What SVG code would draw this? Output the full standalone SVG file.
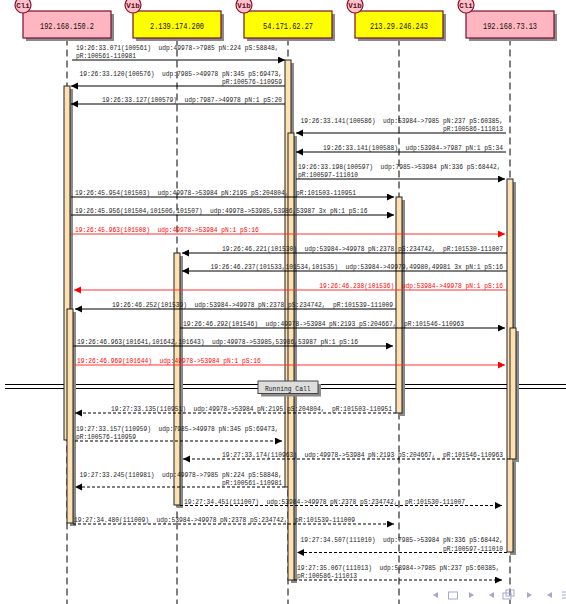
<svg xmlns="http://www.w3.org/2000/svg" width="566" height="604" viewBox="0 0 566 604">
<style>
.t{font-family:"Liberation Mono","DejaVu Sans Mono",monospace;font-size:8px;fill:#1a1a1a;white-space:pre}
.red{fill:#f00}
.pt{font-family:"Liberation Mono","DejaVu Sans Mono",monospace;font-size:8.5px;fill:#111;text-anchor:middle}
.ct{font-family:"Liberation Mono","DejaVu Sans Mono",monospace;font-size:7.5px;fill:#5a1020;text-anchor:middle;font-weight:bold}
.box{stroke:#7a1030;stroke-width:1.2}
.cli{fill:#ffb6c1}
.vib{fill:#ffff00}
.circ{fill:#ffc0cb;stroke:#8a1030;stroke-width:1.2}
.shadow{fill:#8a8a8a}
.life{stroke:#000;stroke-width:1;stroke-dasharray:7,4;fill:none}
.act{fill:#ffe0b0;stroke:#222;stroke-width:1}
.msg{stroke:#000;stroke-width:1;fill:none;marker-end:url(#ah)}
.msgr{stroke:#f33;stroke-width:1;fill:none;marker-end:url(#ahr)}
.rsp{stroke:#000;stroke-width:1;fill:none;stroke-dasharray:3,2;marker-end:url(#ah)}
.nav{fill:#a4a8d4;stroke:none}
.navs{fill:none;stroke:#a4a8d4;stroke-width:1}
</style>
<defs>
<marker id="ah" markerWidth="8" markerHeight="8" refX="7" refY="3.5" orient="auto" markerUnits="userSpaceOnUse"><path d="M0,0 L7,3.5 L0,7 z" fill="#000"/></marker>
<marker id="ahr" markerWidth="8" markerHeight="8" refX="7" refY="3.5" orient="auto" markerUnits="userSpaceOnUse"><path d="M0,0 L7,3.5 L0,7 z" fill="#f00"/></marker>
</defs>
<rect width="566" height="604" fill="#fff"/>

<g id="divider-lines">
<line x1="5" y1="384.5" x2="566" y2="384.5" stroke="#000" stroke-width="1"/>
<line x1="5" y1="388.5" x2="566" y2="388.5" stroke="#000" stroke-width="1"/>
</g>

<g id="p1">
<line class="life" x1="67" y1="38.5" x2="67" y2="604"/>
<rect class="shadow" x="67" y="89" width="6" height="354"/>
<rect class="act" x="64" y="86" width="6" height="354"/>
<rect class="shadow" x="70" y="312" width="6" height="214"/>
<rect class="act" x="67" y="309" width="6" height="214"/>
<rect class="shadow" x="26" y="14" width="88" height="27"/>
<rect class="box cli" x="23" y="11" width="88" height="27"/>
<text class="pt" x="67" y="28.5" textLength="54" lengthAdjust="spacingAndGlyphs">192.168.150.2</text>
<circle class="circ" cx="23" cy="5" r="8"/>
<text class="ct" x="23" y="8">Cli</text>
</g>

<g id="p2">
<line class="life" x1="177" y1="38.5" x2="177" y2="604"/>
<rect class="shadow" x="177" y="256" width="6" height="252"/>
<rect class="act" x="174" y="253" width="6" height="252"/>
<rect class="shadow" x="136" y="14" width="88" height="27"/>
<rect class="box vib" x="133" y="11" width="88" height="27"/>
<text class="pt" x="177" y="28.5" textLength="54" lengthAdjust="spacingAndGlyphs">2.139.174.200</text>
<circle class="circ" cx="133" cy="5" r="8"/>
<text class="ct" x="133" y="8">Vib</text>
</g>

<g id="p3">
<line class="life" x1="288" y1="38.5" x2="288" y2="604"/>
<rect class="shadow" x="288" y="63" width="6" height="427"/>
<rect class="act" x="285" y="60" width="6" height="427"/>
<rect class="shadow" x="291" y="136" width="6" height="447"/>
<rect class="act" x="288" y="133" width="6" height="447"/>
<rect class="shadow" x="247" y="14" width="88" height="27"/>
<rect class="box vib" x="244" y="11" width="88" height="27"/>
<text class="pt" x="288" y="28.5" textLength="50" lengthAdjust="spacingAndGlyphs">54.171.62.27</text>
<circle class="circ" cx="244" cy="5" r="8"/>
<text class="ct" x="244" y="8">Vib</text>
</g>

<g id="p4">
<line class="life" x1="399" y1="38.5" x2="399" y2="604"/>
<rect class="shadow" x="399" y="200" width="6" height="216"/>
<rect class="act" x="396" y="197" width="6" height="216"/>
<rect class="shadow" x="358" y="14" width="88" height="27"/>
<rect class="box vib" x="355" y="11" width="88" height="27"/>
<text class="pt" x="399" y="28.5" textLength="58" lengthAdjust="spacingAndGlyphs">213.29.246.243</text>
<circle class="circ" cx="355" cy="5" r="8"/>
<text class="ct" x="355" y="8">Vib</text>
</g>

<g id="p5">
<line class="life" x1="510" y1="38.5" x2="510" y2="604"/>
<rect class="shadow" x="510" y="182" width="6" height="373"/>
<rect class="act" x="507" y="179" width="6" height="373"/>
<rect class="shadow" x="513" y="331" width="6" height="131"/>
<rect class="act" x="510" y="328" width="6" height="131"/>
<rect class="shadow" x="469" y="14" width="88" height="27"/>
<rect class="box cli" x="466" y="11" width="88" height="27"/>
<text class="pt" x="510" y="28.5" textLength="54" lengthAdjust="spacingAndGlyphs">192.168.73.13</text>
<circle class="circ" cx="466" cy="5" r="8"/>
<text class="ct" x="466" y="8">Cli</text>
</g>

<g id="connectors" xml:space="preserve">
<line class="msg" x1="72" y1="60" x2="285" y2="60"/>
<text class="t" x="76" y="49.5" textLength="202.5" lengthAdjust="spacingAndGlyphs">19:26:33.071(100561)  udp:49978->7985 pN:224 pS:58848,</text>
<text class="t" x="76" y="58" textLength="60" lengthAdjust="spacingAndGlyphs">pR:100561-110981</text>

<line class="msg" x1="285" y1="86" x2="71" y2="86"/>
<text class="t" x="79.5" y="75.5" textLength="202.5" lengthAdjust="spacingAndGlyphs">19:26:33.120(100576)  udp:7985->49978 pN:345 pS:69473,</text>
<text class="t" x="222" y="84" textLength="60" lengthAdjust="spacingAndGlyphs">pR:100576-110959</text>

<line class="msg" x1="285" y1="104" x2="71" y2="104"/>
<text class="t" x="102" y="102" textLength="180" lengthAdjust="spacingAndGlyphs">19:26:33.127(100579)  udp:7987->49978 pN:1 pS:20</text>

<line class="msg" x1="506" y1="133" x2="296" y2="133"/>
<text class="t" x="300.5" y="122.5" textLength="202.5" lengthAdjust="spacingAndGlyphs">19:26:33.141(100586)  udp:53984->7985 pN:237 pS:60385,</text>
<text class="t" x="443" y="131" textLength="60" lengthAdjust="spacingAndGlyphs">pR:100586-111013</text>

<line class="msg" x1="506" y1="152" x2="296" y2="152"/>
<text class="t" x="323" y="150" textLength="180" lengthAdjust="spacingAndGlyphs">19:26:33.141(100588)  udp:53984->7987 pN:1 pS:34</text>

<line class="msg" x1="296" y1="179" x2="505" y2="179"/>
<text class="t" x="298" y="168.5" textLength="202.5" lengthAdjust="spacingAndGlyphs">19:26:33.198(100597)  udp:7985->53984 pN:336 pS:68442,</text>
<text class="t" x="298" y="177" textLength="60" lengthAdjust="spacingAndGlyphs">pR:100597-111010</text>

<line class="msg" x1="71" y1="197" x2="394" y2="197"/>
<text class="t" x="75" y="195" textLength="281" lengthAdjust="spacingAndGlyphs">19:26:45.954(101503)  udp:49978->53984 pN:2195 pS:204804,  pR:101503-110951</text>

<line class="msg" x1="71" y1="215" x2="394" y2="215"/>
<text class="t" x="75" y="213" textLength="292.5" lengthAdjust="spacingAndGlyphs">19:26:45.956(101504,101506,101507)  udp:49978->53985,53986,53987 3x pN:1 pS:16</text>

<line class="msgr" x1="71" y1="234" x2="505" y2="234"/>
<text class="t red" x="75" y="232" textLength="183.75" lengthAdjust="spacingAndGlyphs">19:26:45.963(101508)  udp:49978->53984 pN:1 pS:16</text>

<line class="msg" x1="507" y1="253" x2="182" y2="253"/>
<text class="t" x="222" y="251" textLength="281" lengthAdjust="spacingAndGlyphs">19:26:46.221(101530)  udp:53984->49978 pN:2378 pS:234742,  pR:101530-111007</text>

<line class="msg" x1="507" y1="271" x2="182" y2="271"/>
<text class="t" x="210.5" y="269" textLength="292.5" lengthAdjust="spacingAndGlyphs">19:26:46.237(101533,101534,101535)  udp:53984->49979,49980,49981 3x pN:1 pS:16</text>

<line class="msgr" x1="507" y1="290" x2="74" y2="290"/>
<text class="t red" x="319.25" y="288" textLength="183.75" lengthAdjust="spacingAndGlyphs">19:26:46.238(101536)  udp:53984->49978 pN:1 pS:16</text>

<line class="msg" x1="396" y1="309" x2="75" y2="309"/>
<text class="t" x="112" y="307" textLength="281" lengthAdjust="spacingAndGlyphs">19:26:46.252(101539)  udp:53984->49978 pN:2378 pS:234742,  pR:101539-111009</text>

<line class="msg" x1="180" y1="328" x2="505" y2="328"/>
<text class="t" x="183" y="326" textLength="281" lengthAdjust="spacingAndGlyphs">19:26:46.292(101546)  udp:49978->53984 pN:2193 pS:204667,  pR:101546-110963</text>

<line class="msg" x1="73" y1="346" x2="393" y2="346"/>
<text class="t" x="77" y="344" textLength="281" lengthAdjust="spacingAndGlyphs">19:26:46.963(101641,101642,101643)  udp:49978->53985,53986,53987 pN:1 pS:16</text>

<line class="msgr" x1="73" y1="365" x2="505" y2="365"/>
<text class="t red" x="77" y="363" textLength="183.75" lengthAdjust="spacingAndGlyphs">19:26:46.969(101644)  udp:49978->53984 pN:1 pS:16</text>

<line class="rsp" x1="396" y1="413" x2="75" y2="413"/>
<text class="t" x="111" y="411" textLength="281" lengthAdjust="spacingAndGlyphs">19:27:33.135(110951)  udp:49978->53984 pN:2195 pS:204804,  pR:101503-110951</text>

<line class="rsp" x1="75" y1="441" x2="282" y2="441"/>
<text class="t" x="76" y="430.5" textLength="202.5" lengthAdjust="spacingAndGlyphs">19:27:33.157(110959)  udp:7985->49978 pN:345 pS:69473,</text>
<text class="t" x="76" y="439" textLength="60" lengthAdjust="spacingAndGlyphs">pR:100576-110959</text>

<line class="rsp" x1="510" y1="459" x2="183" y2="459"/>
<text class="t" x="222" y="457" textLength="281" lengthAdjust="spacingAndGlyphs">19:27:33.174(110963)  udp:49978->53984 pN:2193 pS:204667,  pR:101546-110963</text>

<line class="rsp" x1="285" y1="487" x2="75" y2="487"/>
<text class="t" x="79.5" y="476.5" textLength="202.5" lengthAdjust="spacingAndGlyphs">19:27:33.245(110981)  udp:49978->7985 pN:224 pS:58848,</text>
<text class="t" x="222" y="485" textLength="60" lengthAdjust="spacingAndGlyphs">pR:100561-110981</text>

<line class="rsp" x1="180" y1="505.5" x2="502" y2="505.5"/>
<text class="t" x="184" y="503.5" textLength="281" lengthAdjust="spacingAndGlyphs">19:27:34.451(111007)  udp:53984->49978 pN:2378 pS:234742,  pR:101530-111007</text>

<line class="rsp" x1="73" y1="524" x2="394" y2="524"/>
<text class="t" x="74" y="522" textLength="281" lengthAdjust="spacingAndGlyphs">19:27:34.480(111009)  udp:53984->49978 pN:2378 pS:234742,  pR:101539-111009</text>

<line class="rsp" x1="507" y1="552.5" x2="297" y2="552.5"/>
<text class="t" x="300.5" y="542" textLength="202.5" lengthAdjust="spacingAndGlyphs">19:27:34.507(111010)  udp:7985->53984 pN:336 pS:68442,</text>
<text class="t" x="443" y="550.5" textLength="60" lengthAdjust="spacingAndGlyphs">pR:100597-111010</text>

<line class="rsp" x1="294" y1="580" x2="502" y2="580"/>
<text class="t" x="297" y="569.5" textLength="202.5" lengthAdjust="spacingAndGlyphs">19:27:35.067(111013)  udp:53984->7985 pN:237 pS:60385,</text>
<text class="t" x="297" y="578" textLength="60" lengthAdjust="spacingAndGlyphs">pR:100586-111013</text>
</g>

<g id="divider">
<rect x="261" y="384" width="60" height="12.5" fill="#8a8a8a"/>
<rect x="258" y="381" width="60" height="12.5" fill="#dddddd" stroke="#444" stroke-width="1"/>
<text class="t" x="265" y="390.5" textLength="45.5" lengthAdjust="spacingAndGlyphs">Running Call</text>
</g>

<g id="nav">
<polygon class="nav" points="433,595 438,592 438,598"/>
<rect class="navs" x="448.5" y="592" width="9" height="7"/>
<polygon class="nav" points="469,592 474,595 469,598"/>
<polygon class="nav" points="489,595 494,592 494,598"/>
<rect class="navs" x="503" y="593" width="8" height="6"/>
<rect class="navs" x="506" y="590" width="8" height="6"/>
<polygon class="nav" points="527,592 532,595 527,598"/>
<polygon class="nav" points="547,595 552,592 552,598"/>
<line class="navs" x1="562" y1="592" x2="566" y2="592"/>
<line class="navs" x1="562" y1="595" x2="566" y2="595"/>
<line class="navs" x1="562" y1="598" x2="566" y2="598"/>
</g>
</svg>
